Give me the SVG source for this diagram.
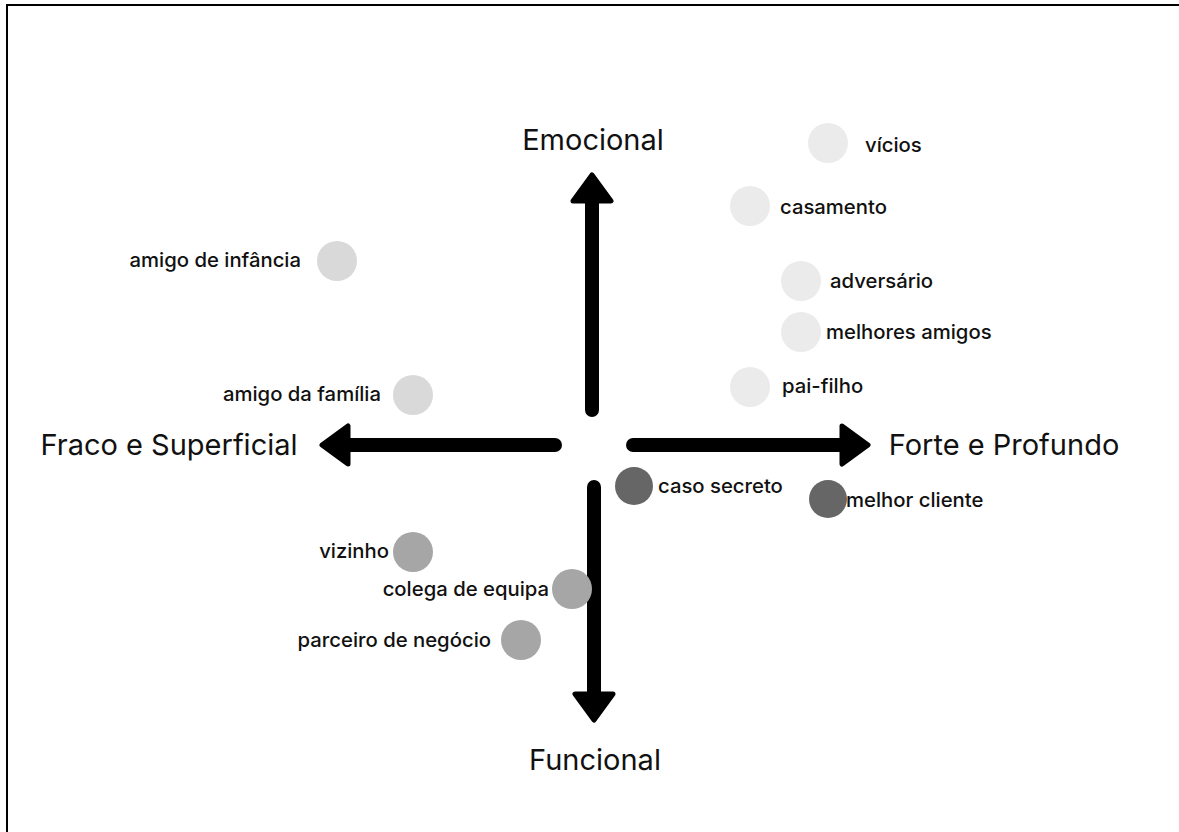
<svg xmlns="http://www.w3.org/2000/svg" width="1179" height="832" viewBox="0 0 1179 832">
<style>
.axis{font-family:Inter,"Liberation Sans",sans-serif;font-size:29px;fill:#111;text-anchor:middle}
.lbl{font-family:Inter,"Liberation Sans",sans-serif;font-size:20.3px;font-weight:500;fill:#111}
.end{text-anchor:end}
.shaft{stroke:#000;stroke-width:14;stroke-linecap:round;fill:none}
.c1{fill:#ebebeb}
.c2{fill:#d9d9d9}
.c3{fill:#a6a6a6}
.c4{fill:#666666}
</style>
<defs>
<marker id="head" markerUnits="userSpaceOnUse" viewBox="0 0 34 44" refX="6" refY="22" markerWidth="34" markerHeight="44" orient="auto" overflow="visible">
<path d="M4,3 L30,22 L4,41 Z" fill="#000" stroke="#000" stroke-width="5" stroke-linejoin="round"/>
</marker>
</defs>
<rect x="0" y="0" width="1179" height="832" fill="#fff"/>
<rect x="7" y="5" width="1200" height="860" fill="none" stroke="#000" stroke-width="2"/>
<g id="connectors">
<line class="shaft" x1="592" y1="410" x2="592" y2="199" marker-end="url(#head)"/>
<line class="shaft" x1="555" y1="445" x2="346" y2="445" marker-end="url(#head)"/>
<line class="shaft" x1="633" y1="445" x2="844" y2="445" marker-end="url(#head)"/>
<line class="shaft" x1="594" y1="487" x2="594" y2="696" marker-end="url(#head)"/>
</g>
<g id="axis-emocional"><text class="axis" x="593" y="150">Emocional</text></g>
<g id="axis-fraco"><text class="axis" x="169" y="455">Fraco e Superficial</text></g>
<g id="axis-forte"><text class="axis" x="1004" y="455">Forte e Profundo</text></g>
<g id="axis-funcional"><text class="axis" x="595" y="770">Funcional</text></g>
<g id="n-vicios"><circle class="c1" cx="828" cy="143" r="20"/><text class="lbl" x="865" y="152">vícios</text></g>
<g id="n-casamento"><circle class="c1" cx="750" cy="206" r="20"/><text class="lbl" x="780" y="214">casamento</text></g>
<g id="n-adversario"><circle class="c1" cx="801" cy="281" r="20"/><text class="lbl" x="830" y="288">adversário</text></g>
<g id="n-melhores-amigos"><circle class="c1" cx="801" cy="332" r="20"/><text class="lbl" x="826" y="339">melhores amigos</text></g>
<g id="n-pai-filho"><circle class="c1" cx="750" cy="387" r="20"/><text class="lbl" x="782" y="393">pai-filho</text></g>
<g id="n-amigo-infancia"><circle class="c2" cx="337" cy="261" r="20"/><text class="lbl end" x="301" y="267">amigo de infância</text></g>
<g id="n-amigo-familia"><circle class="c2" cx="413" cy="395" r="20"/><text class="lbl end" x="381" y="401">amigo da família</text></g>
<g id="n-caso-secreto"><circle class="c4" cx="634" cy="486" r="19"/><text class="lbl" x="658" y="493">caso secreto</text></g>
<g id="n-melhor-cliente"><circle class="c4" cx="828" cy="499" r="19"/><text class="lbl" x="846" y="507">melhor cliente</text></g>
<g id="n-vizinho"><circle class="c3" cx="413" cy="552" r="20"/><text class="lbl end" x="389" y="558">vizinho</text></g>
<g id="n-colega"><circle class="c3" cx="572" cy="589" r="20"/><text class="lbl end" x="549" y="596">colega de equipa</text></g>
<g id="n-parceiro"><circle class="c3" cx="521" cy="640" r="20"/><text class="lbl end" x="491" y="647">parceiro de negócio</text></g>
</svg>
